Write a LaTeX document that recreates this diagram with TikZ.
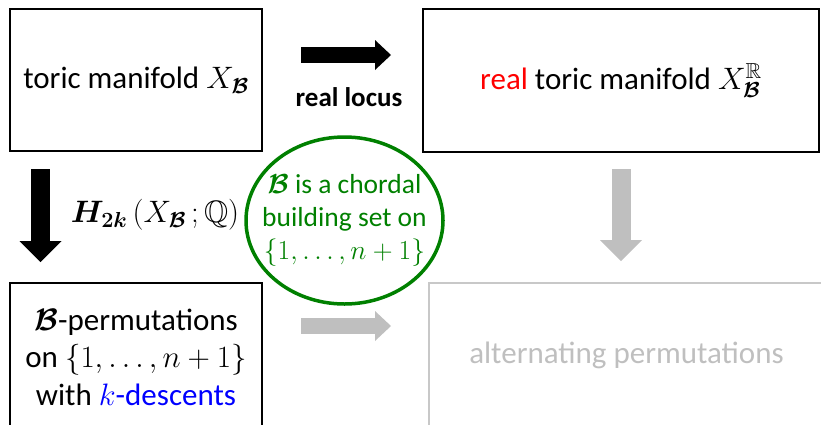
\documentclass[tikz,border=0pt]{standalone}
\usepackage{fix-cm}
\usepackage{amsmath,amssymb,bm}
\usepackage{fontspec}
\setmainfont{Carlito}
\usetikzlibrary{shapes.geometric,arrows.meta}
\definecolor{egreen}{RGB}{0,128,0}
\definecolor{kblue}{RGB}{0,0,255}
\definecolor{garrow}{RGB}{191,191,191}
\definecolor{gbox}{RGB}{200,200,200}
\definecolor{gtext}{RGB}{191,191,191}
\newcommand{\cB}{\bm{\mathcal{B}}}
\begin{document}
\begin{tikzpicture}[x=1bp,y=-1bp,
  box/.style={draw, line width=1.6bp, inner sep=0pt, align=center,
    font=\fontsize{31bp}{37.5bp}\selectfont},
  graybox/.style={box, draw=gbox, text=gtext, line width=1.4bp},
  harrow/.style={line width=16bp, -{Triangle[length=16bp,width=30bp,line width=0pt]}},
  varrow/.style={line width=19bp, -{Triangle[length=21bp,width=42bp,line width=0pt]}},
  lbl/.style={inner sep=0pt, align=center}]
\useasboundingbox (0,0) rectangle (821,424);
\clip (0,0) rectangle (821,424);
% boxes
\node[box, minimum width=252bp, minimum height=142bp] (toric) at (136,80)
  {toric manifold $X_{\cB}$};
\node[box, minimum width=396bp, minimum height=143bp] (real) at (621,80.5)
  {\textcolor{red}{real} toric manifold $X_{\cB}^{\mathbb{R}}$};
\node[box, minimum width=252bp, minimum height=148bp] (bperm) at (136,357)
  {$\cB$-permutations\\ on $\{1, \ldots, n+1\}$\\ with \textcolor{kblue}{$k$-descents}};
\node[graybox, minimum width=395bp, minimum height=144bp] (alt) at (626.5,355)
  {alternating permutations};
% arrows
\coordinate (t1) at (301,55);  \coordinate (t2) at (391,55);
\coordinate (d1) at (40.5,169); \coordinate (d2) at (40.5,262);
\coordinate (g1) at (621,169); \coordinate (g2) at (621,261);
\coordinate (b1) at (301,326); \coordinate (b2) at (391,326);
\draw[harrow, black] (t1) -- (t2);
\draw[varrow, black] (d1) -- (d2);
\draw[varrow, garrow] (g1) -- (g2);
\draw[harrow, garrow] (b1) -- (b2);
% labels
\node[lbl, font=\fontsize{27bp}{32bp}\selectfont\bfseries] (locus) at (349,97) {real locus};
\node[lbl, font=\fontsize{31bp}{36bp}\selectfont] (homol) at (155,215)
  {$\bm{H_{2k}}\,(X_{\cB}\,;\mathbb{Q})$};
% ellipse
\node[ellipse, draw=egreen, line width=3.5bp, minimum width=197bp, minimum height=167bp,
  inner sep=0pt] (chord) at (344.5,220.5) {};
\node[lbl, text=egreen, font=\fontsize{27.5bp}{33bp}\selectfont] (chordtxt) at (chord.center)
  {$\cB$ is a chordal\\ building set on\\ $\{1, \ldots, n+1\}$};
\end{tikzpicture}
\end{document}
